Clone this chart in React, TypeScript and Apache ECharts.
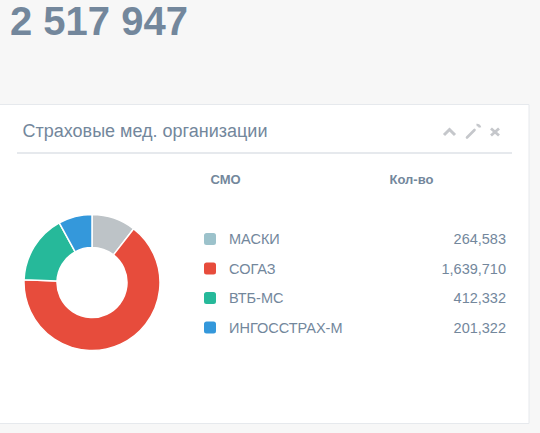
import React, { useEffect, useRef } from "react";
import * as echarts from "echarts";

const names = ["МАСКИ", "СОГАЗ", "ВТБ-МС", "ИНГОССТРАХ-М"];
const values = [264583, 1639710, 412332, 201322];
const sliceColors = ["#BDC3C7", "#E74C3C", "#26B99A", "#3498DB"];
const legendColors = ["#9CC2CB", "#E74C3C", "#26B99A", "#3498DB"];
const headers = ["СМО", "Кол-во"];
const title = "Страховые мед. организации";

const TEXT = "#73879C";
const FONT = "'Liberation Sans', Arial, Helvetica, sans-serif";

function fmtTotal(n: number) {
  return String(n).replace(/\B(?=(\d{3})+(?!\d))/g, " ");
}
function fmtVal(n: number) {
  return n.toLocaleString("en-US");
}

export default function App() {
  const ref = useRef<HTMLDivElement>(null);
  useEffect(() => {
    if (!ref.current) return;
    const chart = echarts.init(ref.current, undefined, { renderer: "svg" });
    const total = values.reduce((a, b) => a + b, 0);
    const valueOf: Record<string, number> = {};
    names.forEach((n, i) => (valueOf[n] = values[i]));

    chart.setOption({
      animation: false,
      backgroundColor: "#F7F7F7",
      graphic: [
        {
          type: "rect",
          z: -10,
          silent: true,
          shape: { x: -10, y: 104.5, width: 539, height: 319 },
          style: { fill: "#FFFFFF", stroke: "#E6E9ED", lineWidth: 1 },
        },
        {
          type: "text",
          x: 10,
          y: 21,
          silent: true,
          style: {
            text: fmtTotal(total),
            fill: TEXT,
            font: `bold 40px ${FONT}`,
            verticalAlign: "middle",
          },
        },
        {
          type: "text",
          x: 22.5,
          y: 131,
          silent: true,
          style: {
            text: title,
            fill: TEXT,
            font: `18px ${FONT}`,
            verticalAlign: "middle",
          },
        },
        {
          type: "rect",
          silent: true,
          shape: { x: 17, y: 152, width: 495, height: 2 },
          style: { fill: "#E6E9ED" },
        },
        {
          type: "polyline",
          silent: true,
          shape: { points: [[444, 135], [449.5, 129.5], [455, 135]] },
          style: { stroke: "#C5C7CB", lineWidth: 3, fill: null },
        },
        {
          type: "line",
          silent: true,
          shape: { x1: 467, y1: 137.5, x2: 474.5, y2: 130 },
          style: { stroke: "#C5C7CB", lineWidth: 2.6, lineCap: "round" },
        },
        {
          type: "arc",
          silent: true,
          shape: { cx: 477, cy: 128, r: 3, startAngle: -Math.PI * 0.05, endAngle: -Math.PI * 0.55, clockwise: false },
          style: { stroke: "#C5C7CB", lineWidth: 2.6, fill: null },
        },
        {
          type: "line",
          silent: true,
          shape: { x1: 491, y1: 128.5, x2: 499, y2: 135.5 },
          style: { stroke: "#C5C7CB", lineWidth: 2.8 },
        },
        {
          type: "line",
          silent: true,
          shape: { x1: 491, y1: 135.5, x2: 499, y2: 128.5 },
          style: { stroke: "#C5C7CB", lineWidth: 2.8 },
        },
        {
          type: "text",
          x: 225.5,
          y: 179,
          silent: true,
          style: {
            text: headers[0],
            fill: TEXT,
            font: `bold 13px ${FONT}`,
            align: "center",
            verticalAlign: "middle",
          },
        },
        {
          type: "text",
          x: 411.5,
          y: 179,
          silent: true,
          style: {
            text: headers[1],
            fill: TEXT,
            font: `bold 13px ${FONT}`,
            align: "center",
            verticalAlign: "middle",
          },
        },
      ],
      legend: {
        orient: "vertical",
        left: 202,
        top: 231,
        padding: 0,
        itemWidth: 14,
        itemHeight: 14,
        itemGap: 13.5,
        icon: "roundRect",
        selectedMode: false,
        data: names.map((n, i) => ({ name: n, itemStyle: { color: legendColors[i] } })),
        formatter: (name: string) => `{n|${name}}{v|${fmtVal(valueOf[name])}}`,
        textStyle: {
          color: TEXT,
          fontFamily: FONT,
          fontSize: 14.5,
          rich: {
            n: { color: TEXT, fontFamily: FONT, fontSize: 14.5, width: 180, padding: [0, 0, 0, 7], lineHeight: 14 },
            v: { color: TEXT, fontFamily: FONT, fontSize: 14.5, width: 97, align: "right", lineHeight: 14 },
          },
        },
      },
      series: [
        {
          type: "pie",
          center: [92, 282.5],
          radius: [35, 68],
          startAngle: 90,
          clockwise: true,
          silent: true,
          label: { show: false },
          labelLine: { show: false },
          emphasis: { disabled: true },
          itemStyle: { borderColor: "#FFFFFF", borderWidth: 1.5 },
          data: names.map((n, i) => ({ name: n, value: values[i], itemStyle: { color: sliceColors[i] } })),
        },
      ],
    });
    return () => chart.dispose();
  }, []);
  return (
    <div
      ref={ref}
      style={{ position: "absolute", left: 0, top: 0, width: 540, height: 433 }}
    />
  );
}
